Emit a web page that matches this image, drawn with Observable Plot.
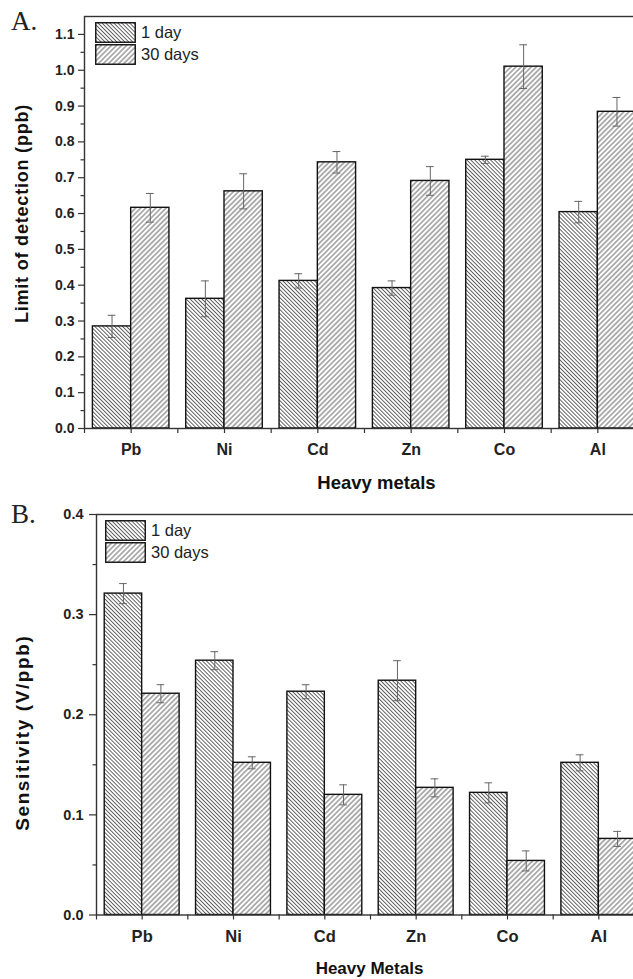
<!DOCTYPE html>
<html>
<head>
<meta charset="utf-8">
<script src="https://cdn.jsdelivr.net/npm/d3@7"></script>
<script src="https://cdn.jsdelivr.net/npm/@observablehq/plot@0.6"></script>
<style>
  html, body { margin: 0; padding: 0; background: #ffffff; overflow: hidden; }
  #wrap { position: relative; width: 633px; height: 979px; overflow: hidden; font-family: "Liberation Sans", Arial, sans-serif; }
  .panel { position: absolute; left: 0; width: 645px; }
  .panel svg { max-width: none !important; width: 645px !important; display: block; }
  .letter { position: absolute; font-family: "Liberation Serif", "Times New Roman", serif; font-size: 27px; color: #222; line-height: 1; }
  .legend { position: absolute; font-family: "Liberation Sans", Arial, sans-serif; font-size: 16.5px; color: #222; }
  .legend .row { display: flex; align-items: center; height: 22px; }
  .legend svg { display: block; margin-right: 5px; }
</style>
</head>
<body>
<svg width="0" height="0" style="position:absolute">
  <defs>
    <pattern id="hatchDay1" patternUnits="userSpaceOnUse" width="2.8" height="2.8" patternTransform="rotate(-45)">
      <rect width="2.8" height="2.8" fill="#ffffff"/>
      <line x1="1.4" y1="0" x2="1.4" y2="2.8" stroke="#4a4a4a" stroke-width="0.85"/>
    </pattern>
    <pattern id="hatchDay30" patternUnits="userSpaceOnUse" width="3.6" height="3.6" patternTransform="rotate(45)">
      <rect width="3.6" height="3.6" fill="#ffffff"/>
      <line x1="1.8" y1="0" x2="1.8" y2="3.6" stroke="#4a4a4a" stroke-width="0.85"/>
    </pattern>
  </defs>
</svg>
<div id="wrap"></div>
<script>
// ---------- data ----------
const metals = ["Pb", "Ni", "Cd", "Zn", "Co", "Al"];
const seriesNames = ["1 day", "30 days"];

// Panel A: limit of detection (ppb)
const lodDay1     = [0.285, 0.362, 0.412, 0.392, 0.750, 0.604];
const lodDay1Err  = [0.031, 0.050, 0.020, 0.020, 0.010, 0.030];
const lodDay30    = [0.616, 0.662, 0.743, 0.691, 1.010, 0.884];
const lodDay30Err = [0.040, 0.049, 0.030, 0.040, 0.061, 0.040];

// Panel B: sensitivity (V/ppb)
const sensDay1     = [0.321, 0.254, 0.223, 0.234, 0.122, 0.152];
const sensDay1Err  = [0.010, 0.009, 0.007, 0.020, 0.010, 0.008];
const sensDay30    = [0.221, 0.152, 0.120, 0.127, 0.054, 0.076];
const sensDay30Err = [0.009, 0.006, 0.010, 0.009, 0.010, 0.0075];

// tick values / labels
const yTicksA      = [0.0, 0.1, 0.2, 0.3, 0.4, 0.5, 0.6, 0.7, 0.8, 0.9, 1.0, 1.1];
const yMinorTicksA = [0.05, 0.15, 0.25, 0.35, 0.45, 0.55, 0.65, 0.75, 0.85, 0.95, 1.05];
const yTicksB      = [0.0, 0.1, 0.2, 0.3, 0.4];
const yMinorTicksB = [0.05, 0.15, 0.25, 0.35];

const titleYA = "Limit of detection (ppb)";
const titleXA = "Heavy metals";
const titleYB = "Sensitivity (V/ppb)";
const titleXB = "Heavy Metals";

// ---------- helpers ----------
const BAR = 0.41;      // bar width in category units
const CAP = 0.042;     // half cap width in category units
const fills = {"1 day": "url(#hatchDay1)", "30 days": "url(#hatchDay30)"};

function rows(values, errs, series) {
  return metals.map((m, i) => ({metal: m, i, series, value: values[i], err: errs[i],
    x1: series === "1 day" ? i - BAR : i,
    x2: series === "1 day" ? i : i + BAR,
    xc: series === "1 day" ? i - BAR / 2 : i + BAR / 2}));
}

function panel(opts) {
  const r1 = rows(opts.v1, opts.e1, "1 day");
  const r30 = rows(opts.v30, opts.e30, "30 days");
  const all = r1.concat(r30);
  const majorX = metals.map((m, i) => i);
  const minorX = d3.range(metals.length + 1).map(k => k - 0.5);
  return Plot.plot({
    width: 645,
    height: opts.height,
    marginLeft: opts.marginLeft,
    marginRight: 1,
    marginTop: opts.marginTop,
    marginBottom: opts.marginBottom,
    style: {fontFamily: "'Liberation Sans', Arial, sans-serif", color: "#222", background: "transparent"},
    x: {domain: [-0.5, metals.length - 0.5], axis: null},
    y: {domain: opts.yDomain, axis: null},
    marks: [
      Plot.rectY(r1, {x1: "x1", x2: "x2", y: "value", fill: fills["1 day"], stroke: "#111", strokeWidth: 1.4}),
      Plot.rectY(r30, {x1: "x1", x2: "x2", y: "value", fill: fills["30 days"], stroke: "#111", strokeWidth: 1.4}),
      Plot.ruleX(all, {x: "xc", y1: d => d.value - d.err, y2: d => d.value + d.err, stroke: "#666", strokeWidth: 1}),
      Plot.ruleY(all, {y: d => d.value + d.err, x1: d => d.xc - CAP, x2: d => d.xc + CAP, stroke: "#666", strokeWidth: 1}),
      Plot.ruleY(all, {y: d => d.value - d.err, x1: d => d.xc - CAP, x2: d => d.xc + CAP, stroke: "#666", strokeWidth: 1}),
      Plot.frame({stroke: "#333", strokeWidth: 1.4}),
      Plot.axisY(opts.yTicks, {tickSize: opts.yTickSize, tickPadding: opts.yTickPad, tickFormat: d3.format(".1f"),
        fontSize: opts.yFont, fontWeight: "bold", stroke: "#333", strokeWidth: 1.2, label: null}),
      Plot.axisY(opts.yMinor, {tickSize: 3.5, tickFormat: () => "", stroke: "#333", strokeWidth: 1.2, label: null}),
      Plot.axisX(majorX, {tickSize: 5, tickPadding: 10, tickFormat: i => metals[i],
        fontSize: opts.xFont, fontWeight: "bold", stroke: "#333", strokeWidth: 1.2, label: null}),
      Plot.axisX(minorX, {tickSize: 5, tickFormat: () => "", stroke: "#333", strokeWidth: 1.2, label: null}),
      Plot.text([opts.titleY], {text: d => d, frameAnchor: "left", rotate: -90, textAnchor: "middle", lineAnchor: "middle",
        dx: opts.titleYdx, dy: opts.titleYdy, fontSize: opts.titleYFont, fontWeight: "bold", fill: "#111"}),
      Plot.text([opts.titleX], {text: d => d, frameAnchor: "bottom", textAnchor: "middle", lineAnchor: "middle",
        dy: opts.titleXdy, dx: opts.titleXdx, fontSize: opts.titleXFont, fontWeight: "bold", fill: "#111"})
    ]
  });
}

const wrap = document.getElementById("wrap");

function addPanel(svg, top) {
  const d = document.createElement("div");
  d.className = "panel";
  d.style.top = top + "px";
  d.appendChild(svg);
  wrap.appendChild(d);
}

const svgA = panel({
  v1: lodDay1, e1: lodDay1Err, v30: lodDay30, e30: lodDay30Err,
  height: 500, marginLeft: 84, marginTop: 16, marginBottom: 72,
  yDomain: [0, 1.15], yTicks: yTicksA, yMinor: yMinorTicksA,
  yTickSize: 6, yTickPad: 4, yFont: 14, xFont: 16,
  titleY: titleYA, titleYdx: -62, titleYdy: -9, titleYFont: 18,
  titleX: titleXA, titleXdx: 12, titleXdy: 55, titleXFont: 18.5
});
addPanel(svgA, 0);

const svgB = panel({
  v1: sensDay1, e1: sensDay1Err, v30: sensDay30, e30: sensDay30Err,
  height: 479, marginLeft: 96, marginTop: 14, marginBottom: 64.5,
  yDomain: [0, 0.4], yTicks: yTicksB, yMinor: yMinorTicksB,
  yTickSize: 7, yTickPad: 6, yFont: 14.5, xFont: 16.5,
  titleY: titleYB, titleYdx: -74, titleYdy: 18, titleYFont: 19,
  titleX: titleXB, titleXdx: -1, titleXdy: 53.5, titleXFont: 17
});
addPanel(svgB, 500);

// letter-spacing on rotated titles (stretched in the original)
d3.select(svgA).selectAll("text").filter(function() { return this.textContent === titleYA; }).style("letter-spacing", "0.8px");
d3.select(svgB).selectAll("text").filter(function() { return this.textContent === titleYB; }).style("letter-spacing", "1.6px");

// panel letters
function letter(txt, top) {
  const d = document.createElement("div");
  d.className = "letter";
  d.textContent = txt;
  d.style.left = "11px";
  d.style.top = top + "px";
  wrap.appendChild(d);
}
letter("A.", 8);
letter("B.", 501);

// legends
function legend(left, top) {
  const lg = document.createElement("div");
  lg.className = "legend";
  lg.style.left = left + "px";
  lg.style.top = top + "px";
  seriesNames.forEach(s => {
    const row = document.createElement("div");
    row.className = "row";
    const sw = d3.create("svg").attr("width", 41).attr("height", 21);
    sw.append("rect").attr("x", 0.75).attr("y", 0.75).attr("width", 39.5).attr("height", 19.5)
      .attr("fill", fills[s]).attr("stroke", "#111").attr("stroke-width", 1.4);
    row.appendChild(sw.node());
    const t = document.createElement("span");
    t.textContent = s;
    row.appendChild(t);
    lg.appendChild(row);
  });
  wrap.appendChild(lg);
}
legend(95, 21);
legend(105, 519);
</script>
</body>
</html>
